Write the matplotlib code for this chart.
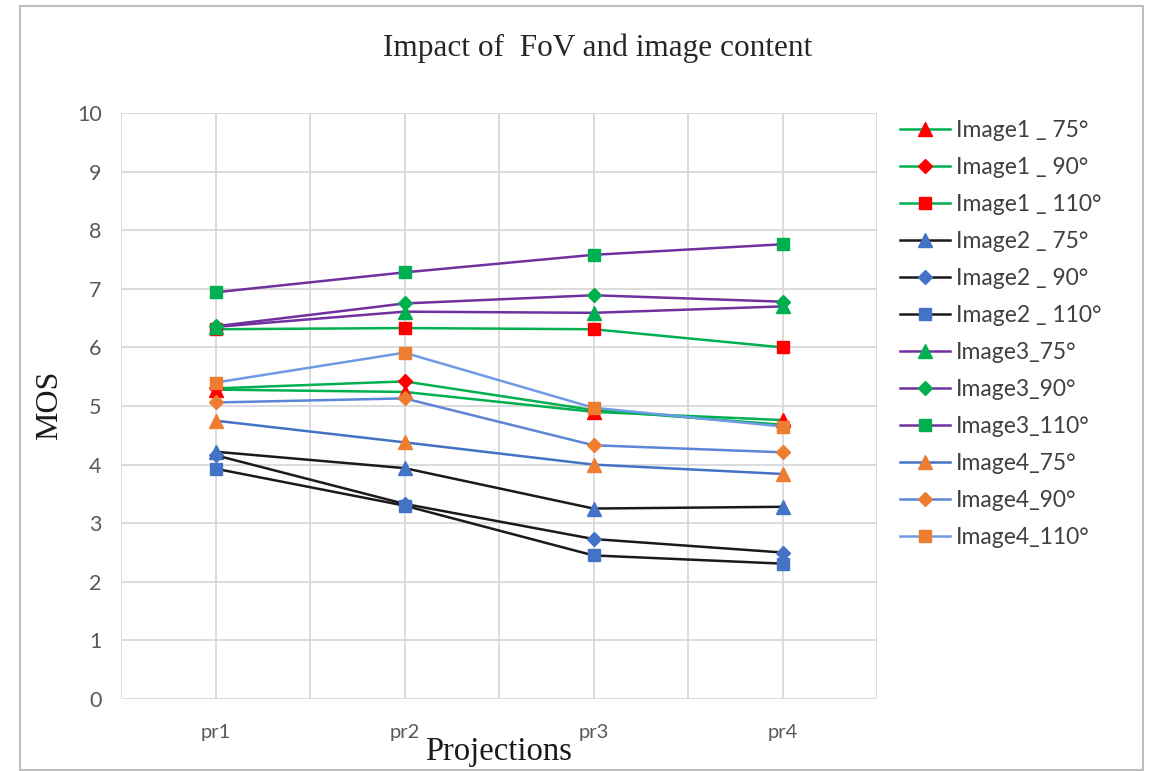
import matplotlib
matplotlib.use("Agg")
import matplotlib.pyplot as plt
from matplotlib.patches import Rectangle

# Projection categories
projections = ["pr1", "pr2", "pr3", "pr4"]

# Mean opinion scores per image / field of view
image1_75 = [5.28, 5.24, 4.90, 4.76]
image1_90 = [5.30, 5.42, 4.93, 4.68]
image1_110 = [6.31, 6.33, 6.31, 6.00]
image2_75 = [4.22, 3.94, 3.25, 3.28]
image2_90 = [4.16, 3.33, 2.73, 2.50]
image2_110 = [3.93, 3.30, 2.45, 2.31]
image3_75 = [6.35, 6.61, 6.59, 6.70]
image3_90 = [6.36, 6.75, 6.89, 6.78]
image3_110 = [6.94, 7.28, 7.58, 7.76]
image4_75 = [4.75, 4.38, 4.00, 3.84]
image4_90 = [5.06, 5.13, 4.33, 4.21]
image4_110 = [5.40, 5.91, 4.97, 4.65]

series_labels = [
    "Image1 _ 75°", "Image1 _ 90°", "Image1 _ 110°",
    "Image2 _ 75°", "Image2 _ 90°", "Image2 _ 110°",
    "Image3_75°", "Image3_90°", "Image3_110°",
    "Image4_75°", "Image4_90°", "Image4_110°",
]
series_values = [
    image1_75, image1_90, image1_110,
    image2_75, image2_90, image2_110,
    image3_75, image3_90, image3_110,
    image4_75, image4_90, image4_110,
]

GREEN = "#00B050"
RED = "#FF0000"
BLACK = "#1A1A1A"
BLUE = "#4472C4"
PURPLE = "#7030A0"
ORANGE = "#ED7D31"

line_colors = [GREEN] * 3 + [BLACK] * 3 + [PURPLE] * 3 + [BLUE, "#5B86D6", "#6E9BE3"]
marker_colors = [RED] * 3 + [BLUE] * 3 + [GREEN] * 3 + [ORANGE] * 3
markers = ["^", "D", "s"] * 4
marker_sizes = {"^": 9.5, "D": 7.5, "s": 9}

W, H = 1151, 771
fig = plt.figure(figsize=(W / 100, H / 100), dpi=100)

# Chart border
fig.patches.append(Rectangle((20 / W, 1 - 770 / H), (1143 - 20) / W, (770 - 6) / H,
                             transform=fig.transFigure, fill=False,
                             edgecolor="#BFBFBF", linewidth=1.5, zorder=0))

ax = fig.add_axes([121 / W, 1 - 699 / H, (877 - 121) / W, (699 - 113) / H])

x = list(range(len(projections)))
handles = []
for vals, lab, lc, mc, mk in zip(series_values, series_labels, line_colors,
                                 marker_colors, markers):
    h, = ax.plot(x, vals, color=lc, linewidth=1.8, marker=mk,
                 markersize=marker_sizes[mk], markerfacecolor=mc,
                 markeredgecolor=mc, label=lab, zorder=3)
    handles.append(h)

ax.set_xlim(-0.5, 3.5)
ax.set_ylim(0, 10)
ax.set_yticks(range(0, 11))
ax.set_xticks(x)
ax.set_xticklabels(projections)

# Gridlines at every category and halfway between them
for gx in [-0.5, 0, 0.5, 1, 1.5, 2, 2.5, 3, 3.5]:
    ax.axvline(gx, color="#D9D9D9", linewidth=1.3, zorder=1)
for gy in range(0, 11):
    ax.axhline(gy, color="#D9D9D9", linewidth=1.3, zorder=1)

for s in ax.spines.values():
    s.set_visible(False)
ax.tick_params(axis="both", length=0)
ax.tick_params(axis="y", pad=14, labelsize=15.5, labelcolor="#595959")
ax.tick_params(axis="x", pad=18, labelsize=14.5, labelcolor="#595959")
for t in ax.get_xticklabels() + ax.get_yticklabels():
    t.set_fontfamily("Lato")

fig.text(598 / W, 1 - 56 / H, "Impact of  FoV and image content",
         ha="center", va="baseline", fontsize=22.5, family="Liberation Serif",
         color="#262626")
fig.text(50 / W, 1 - 405 / H, "MOS", ha="center", va="center", rotation=90,
         fontsize=23, family="Liberation Serif", color="#1A1A1A")
fig.text(499 / W, 1 - 760 / H, "Projections", ha="center", va="baseline",
         fontsize=23.5, family="Liberation Serif", color="#1A1A1A")

leg = fig.legend(handles=handles, loc="upper left",
                 bbox_to_anchor=(900 / W, 1 - 120 / H),
                 frameon=False, prop={"family": "Lato", "size": 16.5},
                 labelspacing=0.7, handlelength=2.2, handletextpad=0.25,
                 borderaxespad=0, borderpad=0)
for t in leg.get_texts():
    t.set_color("#404040")

fig.savefig("out.png", dpi=100)
